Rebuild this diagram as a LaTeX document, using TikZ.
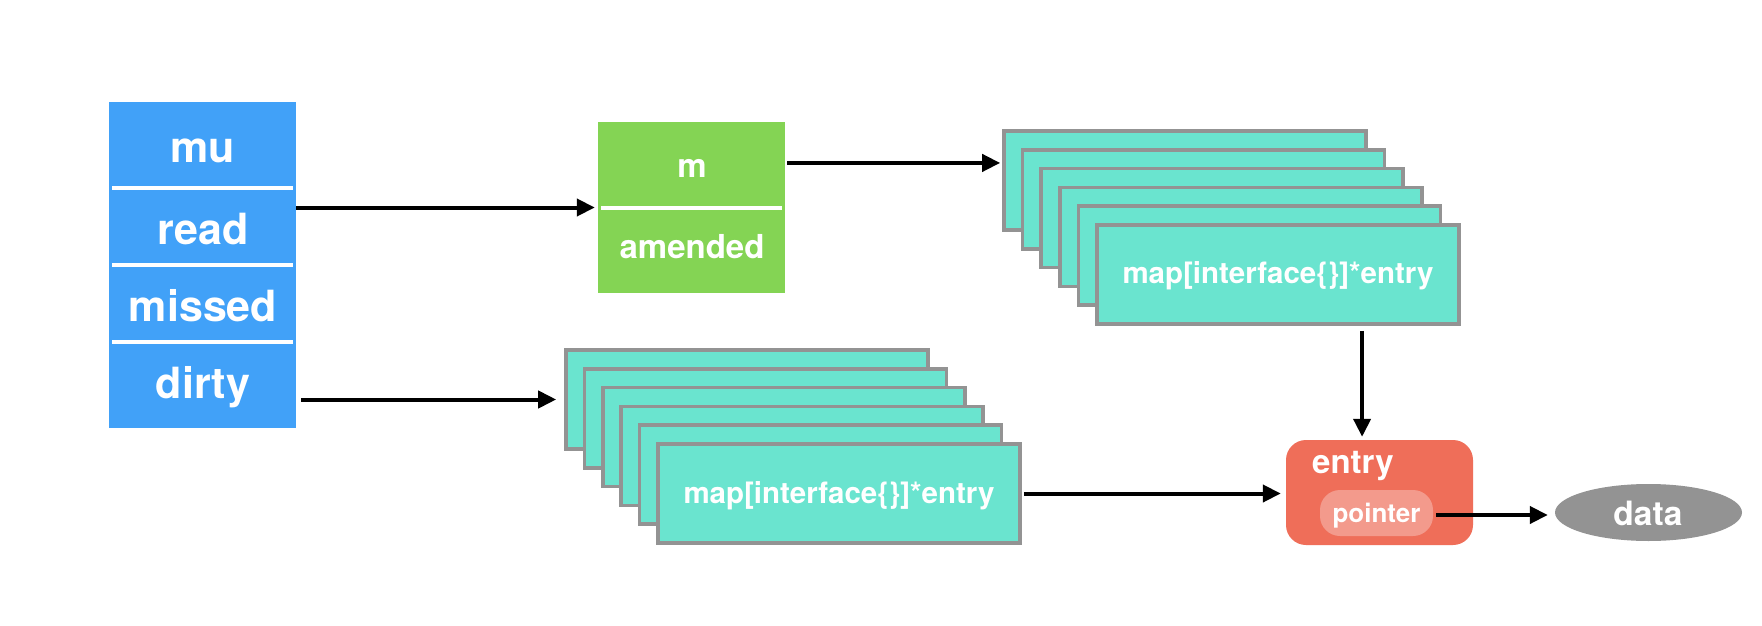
\documentclass[tikz,border=0pt]{standalone}
\usepackage{fontspec}
\setmainfont{TeX Gyre Heros}
\usetikzlibrary{arrows.meta,calc,shapes.geometric}
\definecolor{cblue}{HTML}{41A1F8}
\definecolor{cgreen}{HTML}{84D454}
\definecolor{cteal}{HTML}{6AE4CF}
\definecolor{cgray}{HTML}{939393}
\definecolor{cred}{HTML}{EF6E59}
\definecolor{cpink}{HTML}{F39A8C}
\begin{document}
\begin{tikzpicture}[x=1pt,y=-1pt,
  lbl/.style={text=white,font=\bfseries\fontsize{#1}{#1}\selectfont,inner sep=0pt,anchor=base},
  sepline/.style={white,line width=3.5pt},
  stackbox/.style={draw=cgray,line width=3.6pt,fill=cteal,minimum width=362pt,minimum height=99pt,inner sep=0pt},
  arr/.style={line width=4pt,-{Triangle[length=18pt,width=17pt]}}]
\fill[white] (0,0) rectangle (1762,626);
\useasboundingbox (0,0) rectangle (1762,626);
% blue struct
\node[fill=cblue,minimum width=187pt,minimum height=326pt,inner sep=0pt] (blue) at (202.5,265) {};
\draw[sepline] (112,188) -- (293,188);
\draw[sepline] (112,265) -- (293,265);
\draw[sepline] (112,342) -- (293,342);
\node[lbl=43] (mu) at (203,162) {mu};
\node[lbl=43] (read) at (203,244) {read};
\node[lbl=43] (missed) at (203,321) {missed};
\node[lbl=43] (dirty) at (203,398) {dirty};
% green
\node[fill=cgreen,minimum width=187pt,minimum height=171pt,inner sep=0pt] (green) at (691.5,207.5) {};
\draw[sepline] (601,208) -- (782,208);
\node[lbl=33] (mlab) at (692,177.5) {m};
\node[lbl=33] (amended) at (692,258) {amended};
% top stack
\foreach \i in {0,...,5}
  \node[stackbox] (t\i) at (1185+18.6*\i, 180.5+18.8*\i) {};
\node[lbl=29.5] (tmap) at (1278,283) {map[interface\{\}]*entry};
% bottom stack
\foreach \i in {0,...,5}
  \node[stackbox] (b\i) at (747+18.4*\i, 399.5+18.8*\i) {};
\node[lbl=29.5] (bmap) at (839,503.3) {map[interface\{\}]*entry};
% entry
\node[fill=cred,rounded corners=20pt,minimum width=187pt,minimum height=105pt,inner sep=0pt] (entry) at (1379.5,492.5) {};
\node[lbl=33,anchor=base west] (entrylab) at (1312,473) {entry};
\node[fill=cpink,rounded corners=20pt,minimum width=113pt,minimum height=46pt,inner sep=0pt] (pointer) at (1376.5,513) {};
\node[lbl=26] (pointerlab) at (1376.5,522.5) {pointer};
% data
\node[ellipse,fill=cgray,minimum width=187pt,minimum height=57pt,inner sep=0pt] (data) at (1648.5,512.5) {};
\node[lbl=33.5] (datalab) at (1648,525) {data};
% arrows
\draw[arr] (blue.east |- green.west) -- ([xshift=-3pt]green.west);
\draw[arr] ([xshift=5pt]blue.east |- b0.west) -- ([xshift=-8pt]b0.west);
\coordinate (gm) at ($(green.north east)!0.24!(green.south east)$);
\draw[arr] ([xshift=2pt]gm) -- ([xshift=-2pt]gm -| t0.west);
\coordinate (vd) at ($(t5.south west)!0.73!(t5.south east)$);
\draw[arr] ([yshift=-5pt]vd) -- ([yshift=3pt]vd |- entry.north);
\draw[arr] ([xshift=2pt]b5.east) -- ([xshift=-5pt]b5.east -| entry.west);
\coordinate (pe) at ([xshift=3pt,yshift=-2pt]pointer.east);
\draw[arr] (pe) -- ([xshift=-7pt]pe -| data.west);
\end{tikzpicture}
\end{document}
